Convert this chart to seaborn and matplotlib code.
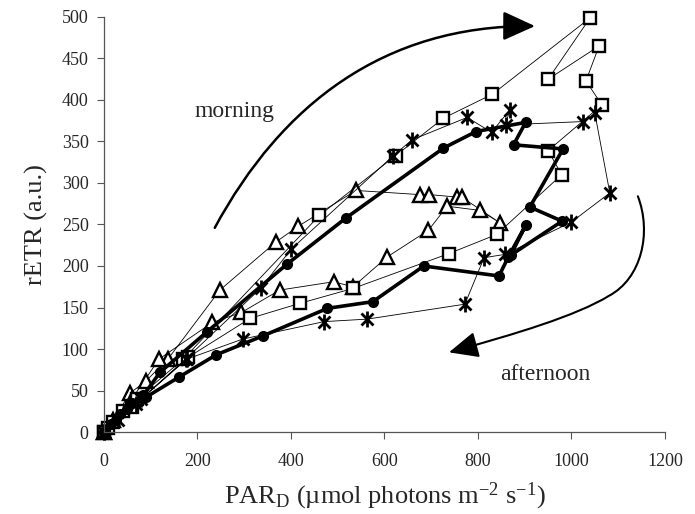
"""
Diurnal rETR vs PAR_D hysteresis loops (morning / afternoon),
redrawn from the published figure.
"""

import matplotlib
matplotlib.use("Agg")
import matplotlib.pyplot as plt
from matplotlib.path import Path
from matplotlib.patches import FancyArrowPatch
import seaborn as sns

# ---------------------------------------------------------------------------
# Data read off the figure (PAR_D, rETR), in measurement order
# ---------------------------------------------------------------------------
circ_par = [0, 15, 35, 60, 84, 120, 221, 391, 518, 726, 796, 902, 876, 982,
            911, 980, 870, 902, 865, 845, 684, 575, 478, 341, 240, 160, 90,
            50, 25, 0]
circ_etr = [0, 10, 22, 35, 44, 72, 121, 202, 258, 342, 362, 373, 346, 341,
            271, 254, 213, 249, 211, 188, 200, 157, 149, 116, 93, 66, 42,
            28, 15, 0]

sq_par = [0, 8, 20, 40, 70, 170, 461, 624, 726, 831, 1040, 950, 1059, 1031,
          1065, 950, 979, 840, 738, 533, 419, 313, 180, 60, 0]
sq_etr = [0, 5, 12, 25, 40, 88, 261, 333, 378, 407, 499, 425, 465, 423,
          394, 339, 310, 238, 215, 173, 155, 137, 90, 30, 0]

tri_par = [0, 20, 56, 89, 137, 248, 368, 416, 539, 675, 696, 756, 765, 847,
           804, 734, 694, 606, 533, 491, 376, 294, 232, 118, 60, 0]
tri_etr = [0, 15, 47, 61, 88, 171, 229, 248, 291, 286, 286, 283, 283, 252,
           267, 272, 243, 211, 175, 181, 171, 144, 132, 88, 40, 0]

ast_par = [0, 30, 68, 175, 335, 400, 619, 659, 777, 829, 868, 859, 1025,
           1050, 1082, 1000, 858, 813, 772, 563, 471, 297, 178, 80, 0]
ast_etr = [0, 15, 34, 88, 173, 220, 333, 352, 379, 361, 388, 370, 374,
           384, 288, 253, 214, 210, 154, 136, 133, 112, 88, 40, 0]

x_ticks = [0, 200, 400, 600, 800, 1000, 1200]
y_ticks = [0, 50, 100, 150, 200, 250, 300, 350, 400, 450, 500]

# annotation arrows (data coords, cubic bezier control points)
morning_arrow = [(237, 246), (380, 395), (600, 490), (922, 489)]
afternoon_arrow = [(1142, 284), (1172, 240), (1150, 185), (1080, 164),
                   (1010, 140), (880, 118), (738, 96)]

# ---------------------------------------------------------------------------
# Style
# ---------------------------------------------------------------------------
sns.set_theme(style="white")
plt.rcParams["font.family"] = ["Liberation Serif", "DejaVu Serif"]
plt.rcParams["mathtext.fontset"] = "custom"
plt.rcParams["mathtext.rm"] = "Liberation Serif"
plt.rcParams["mathtext.it"] = "Liberation Serif:italic"

# Excel-like asterisk: an X plus a vertical bar
asterisk = Path(
    [(0, -1), (0, 1), (-0.75, -0.75), (0.75, 0.75), (-0.75, 0.75), (0.75, -0.75)],
    [Path.MOVETO, Path.LINETO, Path.MOVETO, Path.LINETO, Path.MOVETO, Path.LINETO],
)

fig = plt.figure(figsize=(6.95, 5.14), dpi=100)
ax = fig.add_axes([0.1496, 0.1595, 0.8072, 0.8075])

thin = dict(sort=False, estimator=None, color="black", linewidth=0.6,
            markerfacecolor="white", markeredgecolor="black", clip_on=False,
            ax=ax)

sns.lineplot(x=tri_par, y=tri_etr, marker="^", markersize=9.5,
             markeredgewidth=1.7, **thin)
sns.lineplot(x=sq_par, y=sq_etr, marker="s", markersize=8,
             markeredgewidth=1.7, **thin)
sns.lineplot(x=ast_par, y=ast_etr, marker=asterisk, markersize=11.5,
             markeredgewidth=2.0, **thin)
sns.lineplot(x=circ_par, y=circ_etr, sort=False, estimator=None, ax=ax,
             color="black", linewidth=2.6, marker="o", markersize=8,
             markeredgewidth=0, markerfacecolor="black", clip_on=False)

# ---- curved arrows --------------------------------------------------------
m_path = Path(morning_arrow, [Path.MOVETO, Path.CURVE4, Path.CURVE4, Path.CURVE4])
ax.add_patch(FancyArrowPatch(path=m_path, arrowstyle="-|>,head_length=1.1,head_width=0.5",
                             mutation_scale=18, color="black", linewidth=1.8,
                             clip_on=False))
a_path = Path(afternoon_arrow, [Path.MOVETO] + [Path.CURVE4] * 6)
ax.add_patch(FancyArrowPatch(path=a_path, arrowstyle="-|>,head_length=1.0,head_width=0.45",
                             mutation_scale=18, color="black", linewidth=1.5,
                             clip_on=False))

ax.text(280, 386, "morning", fontsize=17, ha="center", va="center")
ax.text(943, 69, "afternoon", fontsize=17, ha="center", va="center")

# ---- axes -----------------------------------------------------------------
ax.set_xlim(0, 1200)
ax.set_ylim(0, 500)
ax.set_xticks(x_ticks)
ax.set_yticks(y_ticks)
ax.tick_params(axis="both", which="major", labelsize=13, direction="out",
               length=5, width=0.8, color="#555555", bottom=True, left=True,
               pad=6)
ax.tick_params(axis="x", pad=10)
sns.despine(ax=ax)
for side in ("left", "bottom"):
    ax.spines[side].set_color("#555555")
    ax.spines[side].set_linewidth(0.9)

ax.set_xlabel("PAR$_{\\mathrm{D}}$ (\u00b5mol photons m$^{\\mathrm{-2}}$ s$^{\\mathrm{-1}}$)",
              fontsize=19, labelpad=8)
ax.set_ylabel("rETR (a.u.)", fontsize=19, labelpad=10)

fig.savefig("out.png", dpi=100)
plt.close(fig)
